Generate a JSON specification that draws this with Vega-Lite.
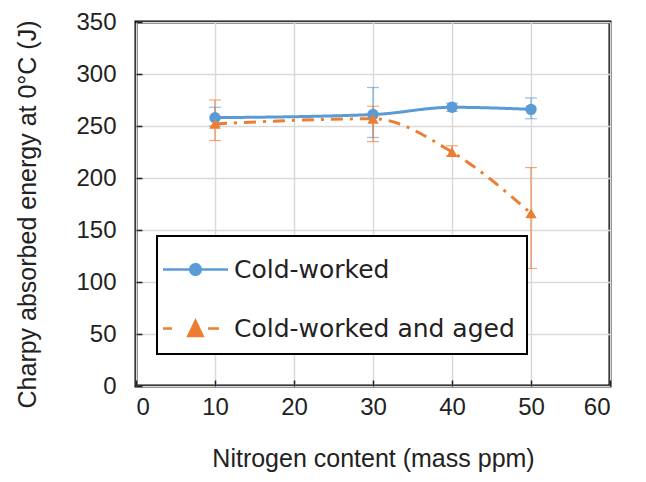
{
  "$schema": "https://vega.github.io/schema/vega-lite/v6.json",
  "width": 474,
  "height": 364,
  "autosize": {"type": "none"},
  "padding": {"left": 136, "top": 22, "right": 36, "bottom": 96},
  "background": "white",
  "config": {
    "view": {"stroke": "black", "strokeWidth": 3},
    "axis": {
      "labelFont": "Liberation Sans",
      "titleFont": "Liberation Sans",
      "labelFontSize": 24,
      "titleFontSize": 25,
      "labelColor": "#222",
      "titleColor": "#222",
      "titleFontWeight": "normal",
      "domain": false,
      "ticks": true,
      "tickSize": -6,
      "tickColor": "#222",
      "tickWidth": 1.5,
      "gridColor": "#d9d9d9",
      "gridWidth": 1.5
    }
  },
  "data": {
    "values": [
      {"series": "Cold-worked", "N": 10, "E": 258, "lo": 250, "hi": 268},
      {"series": "Cold-worked", "N": 30, "E": 261, "lo": 239, "hi": 287},
      {"series": "Cold-worked", "N": 40, "E": 268, "lo": 264, "hi": 272},
      {"series": "Cold-worked", "N": 50, "E": 266, "lo": 257, "hi": 277},
      {"series": "Cold-worked and aged", "N": 10, "E": 252, "lo": 236, "hi": 275},
      {"series": "Cold-worked and aged", "N": 30, "E": 257, "lo": 235, "hi": 269},
      {"series": "Cold-worked and aged", "N": 40, "E": 225, "lo": 221, "hi": 231},
      {"series": "Cold-worked and aged", "N": 50, "E": 166, "lo": 113, "hi": 210}
    ]
  },
  "encoding": {
    "x": {
      "field": "N",
      "type": "quantitative",
      "scale": {"domain": [0, 60], "nice": false},
      "axis": {
        "title": "Nitrogen content (mass ppm)",
        "values": [0, 10, 20, 30, 40, 50, 60],
        "labelPadding": 15,
        "titleY": 72,
        "titleBaseline": "middle"
      }
    }
  },
  "layer": [
    {
      "mark": {"type": "errorbar", "ticks": {"size": 12, "thickness": 1.2}, "rule": {"strokeWidth": 1.5}},
      "encoding": {
        "y": {
          "field": "lo",
          "type": "quantitative",
          "scale": {"domain": [0, 350], "nice": false},
          "title": "Charpy absorbed energy at 0°C (J)",
          "axis": {
            "values": [0, 50, 100, 150, 200, 250, 300, 350],
            "labelPadding": 26,
            "titleX": -109,
            "titleY": 192,
            "titleAngle": -90,
            "titleAlign": "center",
            "titleBaseline": "middle"
          }
        },
        "y2": {"field": "hi"},
        "color": {"field": "series", "type": "nominal", "scale": {"range": ["#5B9BD5", "#ED7D31"]}},
        "opacity": {"value": 0.65}
      }
    },
    {
      "mark": {"type": "line", "interpolate": "monotone", "strokeWidth": 3},
      "encoding": {
        "y": {
          "field": "E",
          "type": "quantitative",
          "title": "Charpy absorbed energy at 0°C (J)"
        },
        "color": {
          "field": "series",
          "type": "nominal",
          "scale": {"range": ["#5B9BD5", "#ED7D31"]},
          "legend": {
            "title": null,
            "orient": "none",
            "legendX": 21,
            "legendY": 214,
            "strokeColor": "black",
            "fillColor": "white",
            "padding": 12,
            "labelFont": "DejaVu Sans",
            "labelFontSize": 25,
            "labelColor": "#222",
            "labelLimit": 500,
            "symbolSize": 1600,
            "symbolOffset": 5,
            "labelOffset": 17,
            "rowPadding": 24,
            "encode": {
              "legend": {"update": {"strokeWidth": {"value": 2}}},
              "symbols": {
                "update": {
                  "shape": {"signal": "datum.value == 'Cold-worked' ? 'M-1.625,0H1.625M0.27,0L0.234,0.135L0.135,0.234L0,0.27L-0.135,0.234L-0.234,0.135L-0.27,0L-0.234,-0.135L-0.135,-0.234L0,-0.27L0.135,-0.234L0.234,-0.135Z' : 'M-1.625,0H-1.175M0.625,0H1.175M0,-0.375L0.36,0.375L-0.36,0.375Z'"},
                  "fill": {"signal": "datum.value == 'Cold-worked' ? '#5B9BD5' : '#ED7D31'"},
                  "stroke": {"signal": "datum.value == 'Cold-worked' ? '#5B9BD5' : '#ED7D31'"},
                  "strokeWidth": {"value": 2.5},
                  "strokeDash": {"value": [1, 0]},
                  "opacity": {"value": 1}
                }
              }
            }
          }
        },
        "strokeDash": {
          "field": "series",
          "type": "nominal",
          "scale": {"range": [[1, 0], [12, 7, 3, 7]]},
          "legend": null
        }
      }
    },
    {
      "mark": {"type": "point", "filled": true, "opacity": 1, "size": 130},
      "encoding": {
        "y": {"field": "E", "type": "quantitative", "title": "Charpy absorbed energy at 0°C (J)"},
        "color": {"field": "series", "type": "nominal"},
        "shape": {
          "field": "series",
          "type": "nominal",
          "scale": {"range": ["circle", "triangle-up"]},
          "legend": null
        }
      }
    }
  ]
}
